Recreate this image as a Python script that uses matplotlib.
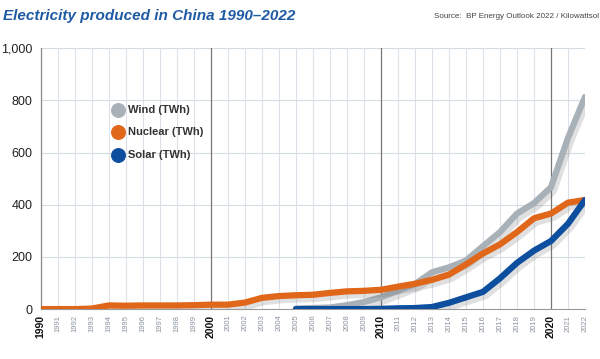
import matplotlib
matplotlib.use("Agg")
import matplotlib.pyplot as plt
import matplotlib.patheffects as pe

years = list(range(1990, 2023))

nuclear = [0, 0, 0, 2, 14, 13, 14, 14, 14, 15, 17, 17, 25, 43, 50, 53, 55, 62, 68, 70, 74,
           86, 97, 112, 132, 171, 213, 248, 295, 348, 366, 408, 418]

wind_years = list(range(2005, 2023))
wind = [2, 4, 6, 15, 27, 45, 70, 96, 141, 160, 186, 241, 295, 366, 406, 467, 656, 813]

solar_years = list(range(2005, 2023))
solar = [0, 0, 0, 0, 0, 1, 3, 4, 8, 24, 45, 66, 118, 177, 224, 261, 327, 418]

labels = ["Wind (TWh)", "Nuclear (TWh)", "Solar (TWh)"]
colors = ["#a9b1b8", "#e0661a", "#0d4f9e"]

plt.rcParams["font.family"] = ["Liberation Sans", "DejaVu Sans"]

fig = plt.figure(figsize=(6, 3.59), dpi=100)
ax = fig.add_axes([0.068, 0.139, 0.907, 0.727])

shadow = [pe.SimpleLineShadow(offset=(2, -3), shadow_color="#666666", alpha=0.2), pe.Normal()]

ax.plot(wind_years, wind, color=colors[0], lw=4.5, solid_capstyle="round",
        path_effects=shadow, zorder=3)
ax.plot(years, nuclear, color=colors[1], lw=4.5, solid_capstyle="round",
        path_effects=shadow, zorder=4)
ax.plot(solar_years, solar, color=colors[2], lw=4.5, solid_capstyle="round",
        path_effects=shadow, zorder=5)

ax.set_xlim(1990, 2022)
ax.set_ylim(0, 1000)

# grid
for y in range(200, 1001, 200):
    ax.axhline(y, color="#d5dbe3", lw=0.8, zorder=1)
for yr in years:
    if yr % 10 == 0 and yr != 1990:
        ax.axvline(yr, color="#777777", lw=0.9, zorder=1)
    else:
        ax.axvline(yr, color="#dde2ea", lw=0.8, zorder=1)

for s in ["top", "right"]:
    ax.spines[s].set_visible(False)
ax.spines["left"].set_color("#888888")
ax.spines["bottom"].set_color("#999999")
ax.spines["left"].set_linewidth(0.9)

ax.set_yticks(range(0, 1001, 200))
ax.set_yticklabels(["0", "200", "400", "600", "800", "1,000"], fontsize=9, color="#222222")
ax.tick_params(axis="y", length=0, pad=6)

ax.set_xticks(years)
ax.set_xticklabels([str(y) for y in years], rotation=90)
ax.tick_params(axis="x", length=0, pad=4)
for lab, yr in zip(ax.get_xticklabels(), years):
    if yr % 10 == 0:
        lab.set_fontsize(7.5)
        lab.set_fontweight("bold")
        lab.set_color("#111111")
    else:
        lab.set_fontsize(5.5)
        lab.set_color("#8a93a0")

# legend
for i, (lab, c) in enumerate(zip(labels, colors)):
    ly = 0.762 - i * 0.085
    ax.scatter([0.142], [ly], s=95, color=c, transform=ax.transAxes, zorder=6, clip_on=False)
    ax.text(0.16, ly, lab, transform=ax.transAxes, fontsize=8, va="center",
            fontweight="bold", color="#333333", zorder=6)

fig.text(0.005, 0.955, "Electricity produced in China 1990\u20132022", fontsize=11,
         fontweight="bold", style="italic", color="#1f5ba5", va="center")
fig.text(0.999, 0.955, "Source:  BP Energy Outlook 2022 / Kilowattsol", fontsize=5.8,
         color="#444444", va="center", ha="right")

fig.savefig("out.png", dpi=100)
